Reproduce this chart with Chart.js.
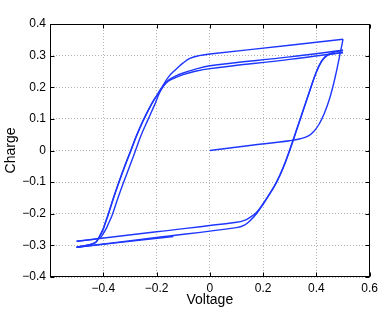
<!DOCTYPE html>
<html>
<head>
<meta charset="utf-8">
<script src="https://cdn.jsdelivr.net/npm/chart.js@4.4.1/dist/chart.umd.min.js"></script>
<style>
html,body{margin:0;padding:0;background:#fff;}
#wrap{width:382px;height:310px;}
</style>
</head>
<body>
<div id="wrap"><canvas id="c" width="382" height="310"></canvas></div>
<script>
// Tick values
const xTicks = [-0.6, -0.4, -0.2, 0, 0.2, 0.4, 0.6];
const yTicks = [-0.4, -0.3, -0.2, -0.1, 0, 0.1, 0.2, 0.3, 0.4];

// Branches of the hysteresis trace (Voltage, Charge)
const virginV = [0, 0.15, 0.30, 0.34, 0.37, 0.39, 0.41, 0.43, 0.45, 0.47, 0.49, 0.50];
const virginQ = [0, 0.016, 0.031, 0.037, 0.046, 0.06, 0.083, 0.118, 0.165, 0.23, 0.31, 0.352];

const down1V = [0.5, 0.3, 0.0, -0.04, -0.075, -0.1, -0.131, -0.155, -0.175, -0.197, -0.218, -0.25, -0.275, -0.297, -0.32, -0.342, -0.362, -0.382, -0.392, -0.4, -0.415, -0.432, -0.5];
const down1Q = [0.352, 0.333, 0.305, 0.300, 0.291, 0.277, 0.254, 0.233, 0.207, 0.177, 0.149, 0.096, 0.048, 0.0, -0.05, -0.101, -0.15, -0.203, -0.227, -0.247, -0.272, -0.292, -0.306];

const up1V = [-0.5, -0.2, 0.1, 0.13, 0.15, 0.175, 0.2, 0.225, 0.25, 0.275, 0.3, 0.325, 0.35, 0.375, 0.4, 0.42, 0.44, 0.46, 0.5];
const up1Q = [-0.306, -0.275, -0.244, -0.236, -0.223, -0.2, -0.17, -0.137, -0.102, -0.056, 0.0, 0.062, 0.125, 0.188, 0.249, 0.284, 0.302, 0.309, 0.317];

const down2V = [0.5, 0.3, 0.0, -0.062, -0.1, -0.125, -0.156, -0.175, -0.19, -0.205, -0.233, -0.258, -0.279, -0.301, -0.324, -0.345, -0.366, -0.38, -0.389, -0.402, -0.413, -0.5];
const down2Q = [0.317, 0.296, 0.268, 0.255, 0.245, 0.237, 0.222, 0.203, 0.18, 0.149, 0.096, 0.048, 0.0, -0.05, -0.101, -0.15, -0.203, -0.23, -0.247, -0.265, -0.277, -0.287];

const up2V = [-0.5, -0.2, 0.1, 0.13, 0.15, 0.175, 0.2, 0.225, 0.25, 0.275, 0.3, 0.325, 0.35, 0.375, 0.4, 0.42, 0.44, 0.46, 0.5];
const up2Q = [-0.287, -0.257, -0.227, -0.221, -0.212, -0.196, -0.168, -0.136, -0.1, -0.054, 0.003, 0.065, 0.127, 0.189, 0.248, 0.282, 0.3, 0.306, 0.31];

const down3V = [0.5, 0.3, 0.0, -0.062, -0.1, -0.125, -0.156, -0.175, -0.197, -0.218, -0.25, -0.275, -0.297, -0.32, -0.342, -0.362, -0.382, -0.392, -0.4, -0.415, -0.432, -0.5];
const down3Q = [0.31, 0.288, 0.259, 0.249, 0.24, 0.232, 0.219, 0.203, 0.176, 0.147, 0.094, 0.046, -0.002, -0.052, -0.103, -0.152, -0.205, -0.229, -0.249, -0.274, -0.293, -0.306];

const up3V = [-0.5, -0.137];
const up3Q = [-0.306, -0.272];

const branches = [
  [virginV, virginQ], [down1V, down1Q], [up1V, up1Q], [down2V, down2Q],
  [up2V, up2Q], [down3V, down3Q], [up3V, up3Q]
];

const LINE = 'rgb(30,55,255)';
const FONT = "'Liberation Sans', Arial, Helvetica, sans-serif";

function fmt(v) {
  const r = Math.round(v * 10) / 10;
  if (r === 0) return '0';
  return (r < 0 ? '\u2212' : '') + String(Math.abs(r));
}

const boxPlugin = {
  id: 'box',
  afterDraw(chart) {
    const {ctx, chartArea: a, scales: {x, y}} = chart;
    ctx.save();
    ctx.strokeStyle = '#000';
    ctx.lineWidth = 1;
    const L = Math.round(a.left) + 0.5, R = Math.round(a.right) - 0.5;
    const T = Math.round(a.top) + 0.5, B = Math.round(a.bottom) - 0.5;
    ctx.strokeRect(L, T, R - L, B - T);
    const tl = 4;
    ctx.beginPath();
    xTicks.forEach(v => {
      const px = Math.round(x.getPixelForValue(v)) + 0.5;
      ctx.moveTo(px, B); ctx.lineTo(px, B - tl);
      ctx.moveTo(px, T); ctx.lineTo(px, T + tl);
    });
    yTicks.forEach(v => {
      const py = Math.round(y.getPixelForValue(v)) + 0.5;
      ctx.moveTo(L, py); ctx.lineTo(L + tl, py);
      ctx.moveTo(R, py); ctx.lineTo(R - tl, py);
    });
    ctx.stroke();
    ctx.restore();
  }
};

new Chart(document.getElementById('c'), {
  type: 'line',
  data: {
    datasets: branches.map(([V, Q]) => ({
      data: V.map((v, i) => ({x: v, y: Q[i]})),
      borderColor: LINE,
      borderWidth: 1.4,
      pointRadius: 0,
      fill: false,
      tension: 0.4
    }))
  },
  options: {
    responsive: false,
    animation: false,
    devicePixelRatio: 1,
    layout: {padding: {top: 24, right: 12, left: 0, bottom: 0}},
    plugins: {legend: {display: false}, tooltip: {enabled: false}},
    scales: {
      x: {
        type: 'linear', min: -0.6, max: 0.6,
        afterBuildTicks: s => { s.ticks = xTicks.map(v => ({value: v})); },
        afterFit: s => { s.height = 33; },
        grid: {color: '#b4b4b4', lineWidth: 1, drawTicks: false},
        border: {display: false, dash: [1, 2]},
        ticks: {
          padding: 4, maxRotation: 0, autoSkip: false, color: '#000',
          font: {family: FONT, size: 12},
          callback: v => (Math.abs(v + 0.6) < 1e-9 ? '' : fmt(v))
        },
        title: {display: true, text: 'Voltage', color: '#000', font: {family: FONT, size: 14}, padding: {top: 0, bottom: 1}}
      },
      y: {
        type: 'linear', min: -0.4, max: 0.4,
        afterBuildTicks: s => { s.ticks = yTicks.map(v => ({value: v})); },
        afterFit: s => { s.width = 50; },
        grid: {color: '#b4b4b4', lineWidth: 1, drawTicks: false},
        border: {display: false, dash: [1, 2]},
        ticks: {
          padding: 4, autoSkip: false, color: '#000',
          font: {family: FONT, size: 12},
          callback: v => fmt(v)
        },
        title: {display: true, text: 'Charge', color: '#000', font: {family: FONT, size: 14}, padding: {top: 3, bottom: 0}}
      }
    }
  },
  plugins: [boxPlugin]
});
</script>
</body>
</html>
